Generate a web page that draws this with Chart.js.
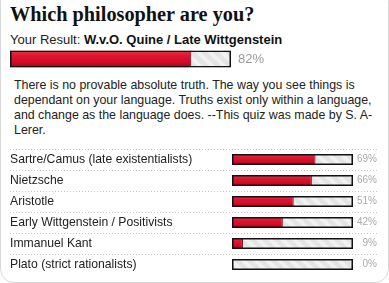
<!DOCTYPE html>
<html>
<head>
<meta charset="utf-8">
<script src="https://cdn.jsdelivr.net/npm/chart.js@4"></script>
<style>
  body { margin: 0; background: #fff; font-family: "Liberation Sans", Arial, sans-serif; }
  #box { position: absolute; left: 0; top: -12px; width: 387px; height: 293px; border: 1px solid #d8d8d8; border-radius: 14px; }
  #title { position: absolute; left: 10px; top: 3px; font: bold 20.3px "Liberation Serif", Georgia, serif; color: #111; }
  #result { position: absolute; left: 10px; top: 32px; font-size: 13px; color: #222; }
  #result b { color: #111; }
  #desc { position: absolute; left: 14px; top: 78px; font-size: 12.4px; line-height: 15px; color: #222; }
  #top { position: absolute; left: 0; top: 46px; }
  #rows { position: absolute; left: 0; top: 149px; }
</style>
</head>
<body>
<div id="box"></div>
<div id="title">Which philosopher are you?</div>
<div id="result">Your Result: <b>W.v.O. Quine / Late Wittgenstein</b></div>
<div id="desc">There is no provable absolute truth. The way you see things is<br>dependant on your language. Truths exist only within a language,<br>and change as the language does. --This quiz was made by S. A-<br>Lerer.</div>
<canvas id="top" width="389" height="26"></canvas>
<canvas id="rows" width="389" height="126"></canvas>
<script>
const topResult = ['W.v.O. Quine / Late Wittgenstein'];
const topScore = [82];
const categories = ['Sartre/Camus (late existentialists)', 'Nietzsche', 'Aristotle', 'Early Wittgenstein / Positivists', 'Immanuel Kant', 'Plato (strict rationalists)'];
const scores = [69, 66, 51, 42, 9, 0];

function stripes(ctx) {
  const c = document.createElement('canvas');
  c.width = 12; c.height = 12;
  const g = c.getContext('2d');
  g.fillStyle = '#e4e4e4';
  g.fillRect(0, 0, 12, 12);
  g.strokeStyle = '#f1f1f1';
  g.lineWidth = 4;
  g.beginPath();
  g.moveTo(-6, -6); g.lineTo(18, 18);
  g.moveTo(-6, 6); g.lineTo(6, 18);
  g.moveTo(6, -6); g.lineTo(18, 6);
  g.stroke();
  return ctx.createPattern(c, 'repeat');
}

function redBar(ctx, rowH, barH) {
  const c = document.createElement('canvas');
  c.width = 1; c.height = rowH;
  const g = c.getContext('2d');
  const t = (rowH - barH) / 2;
  const gr = g.createLinearGradient(0, t, 0, t + barH);
  gr.addColorStop(0, '#e23a52');
  gr.addColorStop(0.3, '#e0162f');
  gr.addColorStop(0.7, '#d00c26');
  gr.addColorStop(1, '#a8001a');
  g.fillStyle = gr;
  g.fillRect(0, t, 1, barH);
  return ctx.createPattern(c, 'repeat');
}

const pctLabels = {
  id: 'pctLabels',
  afterDatasetsDraw(chart, args, opts) {
    const ctx = chart.ctx;
    const meta = chart.getDatasetMeta(0);
    ctx.save();
    ctx.font = opts.font;
    ctx.fillStyle = opts.color;
    ctx.textAlign = opts.align;
    ctx.textBaseline = 'middle';
    meta.data.forEach((el, i) => {
      ctx.fillText(chart.data.datasets[0].data[i] + '%', opts.x, el.y);
    });
    ctx.restore();
  }
};

const dotLines = {
  id: 'dotLines',
  beforeDraw(chart, args, opts) {
    if (!opts.on) return;
    const ctx = chart.ctx;
    const ys = chart.scales.y;
    ctx.save();
    ctx.strokeStyle = '#c8c8c8';
    ctx.setLineDash([1, 2]);
    ctx.lineWidth = 1;
    for (let i = 0; i < chart.data.labels.length; i++) {
      const y = Math.round(ys.getPixelForValue(i) - 10.5) + 0.5;
      ctx.beginPath();
      ctx.moveTo(10, y); ctx.lineTo(378, y);
      ctx.stroke();
    }
    ctx.restore();
  }
};

function makeChart(id, labels, data, rowH, barH, leftW, rightPad, showTicks, pct) {
  const ctx = document.getElementById(id).getContext('2d');
  return new Chart(ctx, {
    type: 'bar',
    data: {
      labels: labels,
      datasets: [
        { data: data, backgroundColor: redBar(ctx, rowH, barH), borderColor: '#7a0012', borderWidth: { right: 1 }, borderSkipped: false, order: 1 },
        { data: labels.map(() => 100), backgroundColor: stripes(ctx), borderWidth: 0, order: 2 },
        { data: labels.map(() => 100), backgroundColor: 'rgba(0,0,0,0)', borderColor: '#111', borderWidth: 1.5, borderSkipped: false, order: 0 }
      ]
    },
    options: {
      indexAxis: 'y',
      responsive: false,
      animation: false,
      events: [],
      datasets: { bar: { grouped: false, categoryPercentage: 1, barPercentage: barH / rowH } },
      layout: { padding: { left: 10, right: rightPad, top: 0, bottom: 0 } },
      scales: {
        x: { display: false, min: 0, max: 100 },
        y: {
          display: showTicks,
          grid: { display: false },
          border: { display: false },
          ticks: { crossAlign: 'far', padding: 0, color: '#222', font: { family: '"Liberation Sans", Arial, sans-serif', size: 12.2 } },
          afterFit(scale) { scale.width = leftW; scale.paddingTop = 0; scale.paddingBottom = 0; }
        }
      },
      plugins: {
        legend: { display: false },
        tooltip: { enabled: false },
        pctLabels: pct,
        dotLines: { on: showTicks }
      }
    },
    plugins: [pctLabels, dotLines]
  });
}

makeChart('top', topResult, topScore, 26, 17, 0, 158, false,
  { x: 238, align: 'left', color: '#999', font: '13px "Liberation Sans", Arial, sans-serif' });
makeChart('rows', categories, scores, 21, 11, 222, 36, true,
  { x: 377, align: 'right', color: '#aaa', font: '10px "Liberation Sans", Arial, sans-serif' });
</script>
</body>
</html>
